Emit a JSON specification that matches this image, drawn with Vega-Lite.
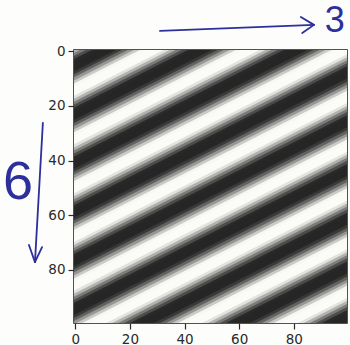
{
  "$schema": "https://vega.github.io/schema/vega-lite/v6.json",
  "width": 273,
  "height": 273,
  "autosize": {"type": "none"},
  "padding": {"left": 74, "top": 50, "right": 3, "bottom": 22},
  "background": "#fdfdfb",
  "config": {
    "view": {"stroke": "#1a1a1a", "strokeWidth": 1.5},
    "axis": {
      "labelFont": "DejaVu Sans",
      "labelFontSize": 13.5,
      "labelColor": "#2a2a2a",
      "tickColor": "#2a2a2a",
      "tickSize": 6,
      "tickWidth": 1.2,
      "domain": false,
      "grid": false,
      "title": null,
      "labelPadding": 3
    }
  },
  "layer": [
    {
      "data": {"values": [
        {"y":1.43,"y2":-54.55,"b":0.897},
        {"y":2.54,"y2":-53.44,"b":0.682},{"y":3.66,"y2":-52.32,"b":0.439},{"y":4.78,"y2":-51.2,"b":0.206},{"y":5.89,"y2":-50.09,"b":0.017},{"y":7.01,"y2":-48.97,"b":0},{"y":8.12,"y2":-47.86,"b":0},{"y":9.24,"y2":-46.74,"b":0},{"y":10.36,"y2":-45.62,"b":0.103},{"y":11.47,"y2":-44.51,"b":0.318},{"y":12.59,"y2":-43.39,"b":0.561},{"y":13.71,"y2":-42.27,"b":0.794},{"y":14.82,"y2":-41.16,"b":0.983},{"y":15.94,"y2":-40.04,"b":1},{"y":17.05,"y2":-38.93,"b":1},{"y":18.17,"y2":-37.81,"b":1},{"y":19.29,"y2":-36.69,"b":0.897},
        {"y":20.4,"y2":-35.58,"b":0.682},{"y":21.52,"y2":-34.46,"b":0.439},{"y":22.63,"y2":-33.35,"b":0.206},{"y":23.75,"y2":-32.23,"b":0.017},{"y":24.87,"y2":-31.11,"b":0},{"y":25.98,"y2":-30,"b":0},{"y":27.1,"y2":-28.88,"b":0},{"y":28.22,"y2":-27.76,"b":0.103},{"y":29.33,"y2":-26.65,"b":0.318},{"y":30.45,"y2":-25.53,"b":0.561},{"y":31.56,"y2":-24.42,"b":0.794},{"y":32.68,"y2":-23.3,"b":0.983},{"y":33.8,"y2":-22.18,"b":1},{"y":34.91,"y2":-21.07,"b":1},{"y":36.03,"y2":-19.95,"b":1},{"y":37.14,"y2":-18.84,"b":0.897},
        {"y":38.26,"y2":-17.72,"b":0.682},{"y":39.38,"y2":-16.6,"b":0.439},{"y":40.49,"y2":-15.49,"b":0.206},{"y":41.61,"y2":-14.37,"b":0.017},{"y":42.72,"y2":-13.26,"b":0},{"y":43.84,"y2":-12.14,"b":0},{"y":44.96,"y2":-11.02,"b":0},{"y":46.07,"y2":-9.91,"b":0.103},{"y":47.19,"y2":-8.79,"b":0.318},{"y":48.3,"y2":-7.68,"b":0.561},{"y":49.42,"y2":-6.56,"b":0.794},{"y":50.54,"y2":-5.44,"b":0.983},{"y":51.65,"y2":-4.33,"b":1},{"y":52.77,"y2":-3.21,"b":1},{"y":53.88,"y2":-2.1,"b":1},{"y":55,"y2":-0.98,"b":0.897},
        {"y":56.12,"y2":0.14,"b":0.682},{"y":57.23,"y2":1.25,"b":0.439},{"y":58.35,"y2":2.37,"b":0.206},{"y":59.46,"y2":3.48,"b":0.017},{"y":60.58,"y2":4.6,"b":0},{"y":61.7,"y2":5.72,"b":0},{"y":62.81,"y2":6.83,"b":0},{"y":63.93,"y2":7.95,"b":0.103},{"y":65.05,"y2":9.07,"b":0.318},{"y":66.16,"y2":10.18,"b":0.561},{"y":67.28,"y2":11.3,"b":0.794},{"y":68.39,"y2":12.41,"b":0.983},{"y":69.51,"y2":13.53,"b":1},{"y":70.63,"y2":14.65,"b":1},{"y":71.74,"y2":15.76,"b":1},{"y":72.86,"y2":16.88,"b":0.897},
        {"y":73.97,"y2":17.99,"b":0.682},{"y":75.09,"y2":19.11,"b":0.439},{"y":76.21,"y2":20.23,"b":0.206},{"y":77.32,"y2":21.34,"b":0.017},{"y":78.44,"y2":22.46,"b":0},{"y":79.55,"y2":23.57,"b":0},{"y":80.67,"y2":24.69,"b":0},{"y":81.79,"y2":25.81,"b":0.103},{"y":82.9,"y2":26.92,"b":0.318},{"y":84.02,"y2":28.04,"b":0.561},{"y":85.13,"y2":29.15,"b":0.794},{"y":86.25,"y2":30.27,"b":0.983},{"y":87.37,"y2":31.39,"b":1},{"y":88.48,"y2":32.5,"b":1},{"y":89.6,"y2":33.62,"b":1},{"y":90.71,"y2":34.73,"b":0.897},
        {"y":91.83,"y2":35.85,"b":0.682},{"y":92.95,"y2":36.97,"b":0.439},{"y":94.06,"y2":38.08,"b":0.206},{"y":95.18,"y2":39.2,"b":0.017},{"y":96.29,"y2":40.31,"b":0},{"y":97.41,"y2":41.43,"b":0},{"y":98.53,"y2":42.55,"b":0},{"y":99.64,"y2":43.66,"b":0.103},{"y":100.76,"y2":44.78,"b":0.318},{"y":101.88,"y2":45.9,"b":0.561},{"y":102.99,"y2":47.01,"b":0.794},{"y":104.11,"y2":48.13,"b":0.983},{"y":105.22,"y2":49.24,"b":1},{"y":106.34,"y2":50.36,"b":1},{"y":107.46,"y2":51.48,"b":1},{"y":108.57,"y2":52.59,"b":0.897},
        {"y":109.69,"y2":53.71,"b":0.682},{"y":110.8,"y2":54.82,"b":0.439},{"y":111.92,"y2":55.94,"b":0.206},{"y":113.04,"y2":57.06,"b":0.017},{"y":114.15,"y2":58.17,"b":0},{"y":115.27,"y2":59.29,"b":0},{"y":116.38,"y2":60.4,"b":0},{"y":117.5,"y2":61.52,"b":0.103},{"y":118.62,"y2":62.64,"b":0.318},{"y":119.73,"y2":63.75,"b":0.561},{"y":120.85,"y2":64.87,"b":0.794},{"y":121.96,"y2":65.98,"b":0.983},{"y":123.08,"y2":67.1,"b":1},{"y":124.2,"y2":68.22,"b":1},{"y":125.31,"y2":69.33,"b":1},{"y":126.43,"y2":70.45,"b":0.897},
        {"y":127.54,"y2":71.56,"b":0.682},{"y":128.66,"y2":72.68,"b":0.439},{"y":129.78,"y2":73.8,"b":0.206},{"y":130.89,"y2":74.91,"b":0.017},{"y":132.01,"y2":76.03,"b":0},{"y":133.13,"y2":77.15,"b":0},{"y":134.24,"y2":78.26,"b":0},{"y":135.36,"y2":79.38,"b":0.103},{"y":136.47,"y2":80.49,"b":0.318},{"y":137.59,"y2":81.61,"b":0.561},{"y":138.71,"y2":82.73,"b":0.794},{"y":139.82,"y2":83.84,"b":0.983},{"y":140.94,"y2":84.96,"b":1},{"y":142.05,"y2":86.07,"b":1},{"y":143.17,"y2":87.19,"b":1},{"y":144.29,"y2":88.31,"b":0.897},
        {"y":145.4,"y2":89.42,"b":0.682},{"y":146.52,"y2":90.54,"b":0.439},{"y":147.64,"y2":91.66,"b":0.206},{"y":148.75,"y2":92.77,"b":0.017},{"y":149.87,"y2":93.89,"b":0},{"y":150.98,"y2":95,"b":0},{"y":152.1,"y2":96.12,"b":0},{"y":153.22,"y2":97.24,"b":0.103}
      ]},
      "mark": {"type": "rule", "clip": true, "strokeWidth": 3.8, "strokeCap": "butt"},
      "encoding": {
        "x": {"datum": -5, "type": "quantitative", "scale": {"domain": [-0.5, 99.5], "nice": false, "zero": false}, "axis": {"values": [0, 20, 40, 60, 80]}},
        "x2": {"datum": 105},
        "y": {"field": "y", "type": "quantitative", "scale": {"domain": [-0.5, 99.5], "nice": false, "zero": false, "reverse": true}, "axis": {"values": [0, 20, 40, 60, 80]}},
        "y2": {"field": "y2"},
        "color": {"field": "b", "type": "quantitative", "scale": {"domain": [0, 1], "range": ["#262626", "#fbfbf7"]}, "legend": null}
      }
    },
    {
      "data": {"values": [
        {"ax": 31.0, "ay": -7.5, "bx": 87.4, "by": -9.7},
        {"ax": 82.6, "ay": -12.6, "bx": 87.4, "by": -9.7},
        {"ax": 87.4, "ay": -9.7, "bx": 83.1, "by": -6.7},
        {"ax": -11.9, "ay": 26.2, "bx": -14.8, "by": 77.2},
        {"ax": -17.0, "ay": 70.9, "bx": -14.8, "by": 77.2},
        {"ax": -14.8, "ay": 77.2, "bx": -12.2, "by": 71.7}
      ]},
      "mark": {"type": "rule", "clip": false, "color": "#2d2f9c", "strokeWidth": 1.8, "strokeCap": "round"},
      "encoding": {
        "x": {"field": "ax", "type": "quantitative"},
        "x2": {"field": "bx"},
        "y": {"field": "ay", "type": "quantitative"},
        "y2": {"field": "by"}
      }
    },
    {
      "data": {"values": [
        {"tx": 95.0, "ty": -11.2, "t": "3", "s": 36},
        {"tx": -21.0, "ty": 48.2, "t": "6", "s": 54}
      ]},
      "mark": {"type": "text", "clip": false, "color": "#2d2f9c", "font": "Liberation Sans", "align": "center", "baseline": "middle"},
      "encoding": {
        "x": {"field": "tx", "type": "quantitative"},
        "y": {"field": "ty", "type": "quantitative"},
        "text": {"field": "t"},
        "size": {"field": "s", "type": "quantitative", "scale": null}
      }
    }
  ]
}
